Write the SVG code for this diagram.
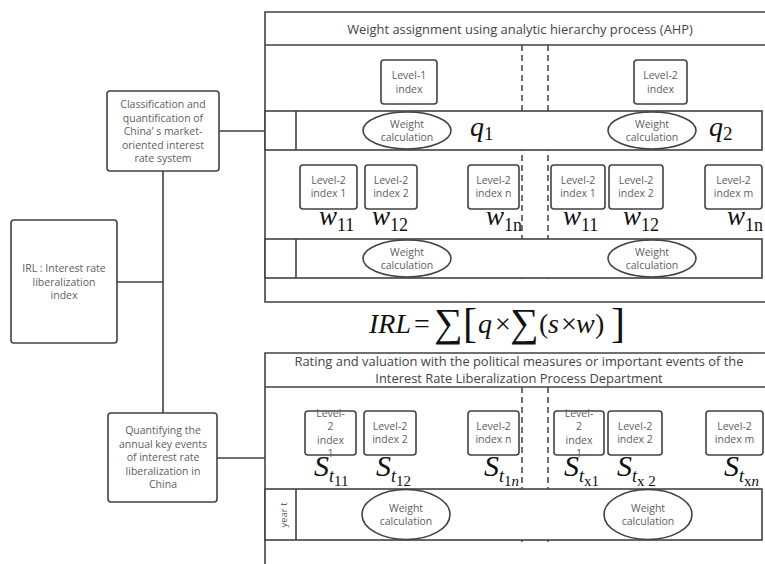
<svg xmlns="http://www.w3.org/2000/svg" width="765" height="564" viewBox="0 0 765 564">
<style>
.ln{stroke:#424242;stroke-width:1.6;fill:none}
.bx{stroke:#424242;stroke-width:1.6;fill:#fff}
.ds{stroke:#424242;stroke-width:1.5;fill:none;stroke-dasharray:6,4}
.t{font-family:"Open Sans","DejaVu Sans",sans-serif;fill:#606060;text-anchor:middle}
.s10{font-size:10.5px}
.s9{font-size:10.5px}
.ti{font-family:"Open Sans","DejaVu Sans",sans-serif;fill:#444;text-anchor:middle;font-size:12.9px}
.m{font-family:"Liberation Serif","Times New Roman",serif;fill:#111}
.mi{font-style:italic}
</style>
<rect width="765" height="564" fill="#fff"/>
<g id="connectors">
<line class="ln" x1="219" y1="131" x2="265" y2="131"/>
<line class="ln" x1="163" y1="171" x2="163" y2="413"/>
<line class="ln" x1="117" y1="282" x2="163" y2="282"/>
<line class="ln" x1="217" y1="458" x2="265" y2="458"/>
</g>
<g id="node-classification">
<rect class="bx" x="107" y="91" width="112" height="80" rx="3"/>
<text class="t s9"><tspan x="163" y="108">Classification and</tspan><tspan x="163" y="121.5">quantification of</tspan><tspan x="163" y="135">China’ s market-</tspan><tspan x="163" y="148.5">oriented interest</tspan><tspan x="163" y="162">rate system</tspan></text>
</g>
<g id="node-irl">
<rect class="bx" x="11" y="220" width="106" height="123" rx="3"/>
<text class="t s9"><tspan x="64" y="272">IRL : Interest rate</tspan><tspan x="64" y="285.5">liberalization</tspan><tspan x="64" y="299">index</tspan></text>
</g>
<g id="node-quantifying">
<rect class="bx" x="108" y="413" width="109" height="89" rx="3"/>
<text class="t s9"><tspan x="163" y="434">Quantifying the</tspan><tspan x="163" y="447.5">annual key events</tspan><tspan x="163" y="461">of interest rate</tspan><tspan x="163" y="474.5">liberalization in</tspan><tspan x="163" y="488">China</tspan></text>
</g>
<g id="panel-ahp">
<path class="ln" d="M765 12H265V302H765M265 45H765"/>
<text class="ti" x="520" y="34">Weight assignment using analytic hierarchy process (AHP)</text>
<line class="ds" x1="522" y1="45" x2="522" y2="279"/>
<line class="ds" x1="548" y1="45" x2="548" y2="279"/>
<g id="ahp-band1">
<rect class="bx" x="265" y="111" width="497" height="39"/>
<line class="ln" x1="296" y1="111" x2="296" y2="150"/>
</g>
<g id="ahp-band2">
<rect class="bx" x="265" y="239" width="497" height="39"/>
<line class="ln" x1="296" y1="239" x2="296" y2="278"/>
</g>
<g id="level1-index">
<rect class="bx" x="381" y="60" width="56" height="44" rx="3"/>
<text class="t s10"><tspan x="409" y="79">Level-1</tspan><tspan x="409" y="93">index</tspan></text>
</g>
<g id="level2-index-top">
<rect class="bx" x="634" y="60" width="53" height="44" rx="3"/>
<text class="t s10"><tspan x="660.5" y="79">Level-2</tspan><tspan x="660.5" y="93">index</tspan></text>
</g>
<g id="wc1">
<ellipse class="bx" cx="407" cy="130.5" rx="44" ry="18.5"/>
<text class="t s10"><tspan x="407" y="128">Weight</tspan><tspan x="407" y="141">calculation</tspan></text>
</g>
<g id="wc2">
<ellipse class="bx" cx="652" cy="130.5" rx="44" ry="18.5"/>
<text class="t s10"><tspan x="652" y="128">Weight</tspan><tspan x="652" y="141">calculation</tspan></text>
</g>
<text class="m" x="470" y="136"><tspan class="mi" font-size="28">q</tspan><tspan font-size="19" dy="4">1</tspan></text>
<text class="m" x="709" y="136"><tspan class="mi" font-size="28">q</tspan><tspan font-size="19" dy="4">2</tspan></text>
<g id="l2-a1">
<rect class="bx" x="300" y="165" width="57" height="44" rx="3"/>
<text class="t s10"><tspan x="328.5" y="184">Level-2</tspan><tspan x="328.5" y="197">index 1</tspan></text>
</g>
<g id="l2-a2">
<rect class="bx" x="365" y="165" width="52" height="44" rx="3"/>
<text class="t s10"><tspan x="391" y="184">Level-2</tspan><tspan x="391" y="197">index 2</tspan></text>
</g>
<g id="l2-an">
<rect class="bx" x="468" y="165" width="51" height="44" rx="3"/>
<text class="t s10"><tspan x="493.5" y="184">Level-2</tspan><tspan x="493.5" y="197">index n</tspan></text>
</g>
<g id="l2-b1">
<rect class="bx" x="551" y="165" width="54" height="44" rx="3"/>
<text class="t s10"><tspan x="578" y="184">Level-2</tspan><tspan x="578" y="197">index 1</tspan></text>
</g>
<g id="l2-b2">
<rect class="bx" x="609" y="165" width="54" height="44" rx="3"/>
<text class="t s10"><tspan x="636" y="184">Level-2</tspan><tspan x="636" y="197">index 2</tspan></text>
</g>
<g id="l2-bm">
<rect class="bx" x="705" y="165" width="57" height="44" rx="3"/>
<text class="t s10"><tspan x="733.5" y="184">Level-2</tspan><tspan x="733.5" y="197">index m</tspan></text>
</g>
<text class="m" x="319" y="225"><tspan class="mi" font-size="27">w</tspan><tspan font-size="18" dy="6">11</tspan></text>
<text class="m" x="372" y="225"><tspan class="mi" font-size="27">w</tspan><tspan font-size="18" dy="6">12</tspan></text>
<text class="m" x="486" y="225"><tspan class="mi" font-size="27">w</tspan><tspan font-size="18" dy="6">1n</tspan></text>
<text class="m" x="563" y="225"><tspan class="mi" font-size="27">w</tspan><tspan font-size="18" dy="6">11</tspan></text>
<text class="m" x="623" y="225"><tspan class="mi" font-size="27">w</tspan><tspan font-size="18" dy="6">12</tspan></text>
<text class="m" x="727" y="225"><tspan class="mi" font-size="27">w</tspan><tspan font-size="18" dy="6">1n</tspan></text>
<g id="wc3">
<ellipse class="bx" cx="407" cy="258.5" rx="44" ry="18.5"/>
<text class="t s10"><tspan x="407" y="256">Weight</tspan><tspan x="407" y="269">calculation</tspan></text>
</g>
<g id="wc4">
<ellipse class="bx" cx="652" cy="258.5" rx="44" ry="18.5"/>
<text class="t s10"><tspan x="652" y="256">Weight</tspan><tspan x="652" y="269">calculation</tspan></text>
</g>
</g>
<g id="formula">
<text class="m" y="333" font-size="28"><tspan class="mi" x="369">IRL</tspan><tspan x="414">=</tspan><tspan x="434" font-size="40" dy="3">∑</tspan><tspan x="463" font-size="42" dy="1">[</tspan><tspan class="mi" x="478" dy="-4">q</tspan><tspan x="495">×</tspan><tspan x="510" font-size="40" dy="3">∑</tspan><tspan x="539" dy="-3">(</tspan><tspan class="mi" x="548">s</tspan><tspan x="561">×</tspan><tspan class="mi" x="576">w</tspan><tspan x="595">)</tspan><tspan x="611" font-size="42" dy="4">]</tspan></text>
</g>
<g id="panel-events">
<path class="ln" d="M765 353H265V564M265 387H765"/>
<text class="ti"><tspan x="519" y="366">Rating and valuation with the political measures or important events of the</tspan><tspan x="519" y="383">Interest Rate Liberalization Process Department</tspan></text>
<line class="ds" x1="522" y1="387" x2="522" y2="542"/>
<line class="ds" x1="548" y1="387" x2="548" y2="542"/>
<g id="events-band">
<rect class="bx" x="265" y="489" width="497" height="51"/>
<line class="ln" x1="296" y1="489" x2="296" y2="540"/>
<text class="t" font-size="9.5" transform="translate(284 515) rotate(-90)" y="3">year t</text>
</g>
<g id="e-a1">
<rect class="bx" x="305" y="411" width="51" height="44" rx="3"/>
<text class="t s10"><tspan x="330.5" y="417">Level-</tspan><tspan x="330.5" y="430">2</tspan><tspan x="330.5" y="444">index</tspan><tspan x="330.5" y="457">1</tspan></text>
</g>
<g id="e-a2">
<rect class="bx" x="364" y="411" width="52" height="44" rx="3"/>
<text class="t s10"><tspan x="390" y="430">Level-2</tspan><tspan x="390" y="443">index 2</tspan></text>
</g>
<g id="e-an">
<rect class="bx" x="468" y="411" width="51" height="44" rx="3"/>
<text class="t s10"><tspan x="493.5" y="430">Level-2</tspan><tspan x="493.5" y="443">index n</tspan></text>
</g>
<g id="e-b1">
<rect class="bx" x="554" y="411" width="50" height="44" rx="3"/>
<text class="t s10"><tspan x="579" y="417">Level-</tspan><tspan x="579" y="430">2</tspan><tspan x="579" y="444">index</tspan><tspan x="579" y="457">1</tspan></text>
</g>
<g id="e-b2">
<rect class="bx" x="608" y="411" width="54" height="44" rx="3"/>
<text class="t s10"><tspan x="635" y="430">Level-2</tspan><tspan x="635" y="443">index 2</tspan></text>
</g>
<g id="e-bm">
<rect class="bx" x="706" y="411" width="57" height="44" rx="3"/>
<text class="t s10"><tspan x="734.5" y="430">Level-2</tspan><tspan x="734.5" y="443">index m</tspan></text>
</g>
<text class="m" x="314" y="476"><tspan class="mi" font-size="30">S</tspan><tspan class="mi" font-size="18" dy="6">t</tspan><tspan font-size="15" dy="4">11</tspan></text>
<text class="m" x="376" y="476"><tspan class="mi" font-size="30">S</tspan><tspan class="mi" font-size="18" dy="6">t</tspan><tspan font-size="15" dy="4">12</tspan></text>
<text class="m" x="484" y="476"><tspan class="mi" font-size="30">S</tspan><tspan class="mi" font-size="18" dy="6">t</tspan><tspan font-size="15" dy="4">1</tspan><tspan class="mi" font-size="15">n</tspan></text>
<text class="m" x="564" y="476"><tspan class="mi" font-size="30">S</tspan><tspan class="mi" font-size="18" dy="6">t</tspan><tspan font-size="15" dy="4">x1</tspan></text>
<text class="m" x="617" y="476"><tspan class="mi" font-size="30">S</tspan><tspan class="mi" font-size="18" dy="6">t</tspan><tspan font-size="15" dy="4">x 2</tspan></text>
<text class="m" x="724" y="476"><tspan class="mi" font-size="30">S</tspan><tspan class="mi" font-size="18" dy="6">t</tspan><tspan font-size="15" dy="4">x</tspan><tspan class="mi" font-size="15">n</tspan></text>
<g id="wc5">
<ellipse class="bx" cx="406" cy="514.5" rx="44" ry="25"/>
<text class="t s10"><tspan x="406" y="512">Weight</tspan><tspan x="406" y="525">calculation</tspan></text>
</g>
<g id="wc6">
<ellipse class="bx" cx="648" cy="514.5" rx="44" ry="25"/>
<text class="t s10"><tspan x="648" y="512">Weight</tspan><tspan x="648" y="525">calculation</tspan></text>
</g>
</g>
</svg>
